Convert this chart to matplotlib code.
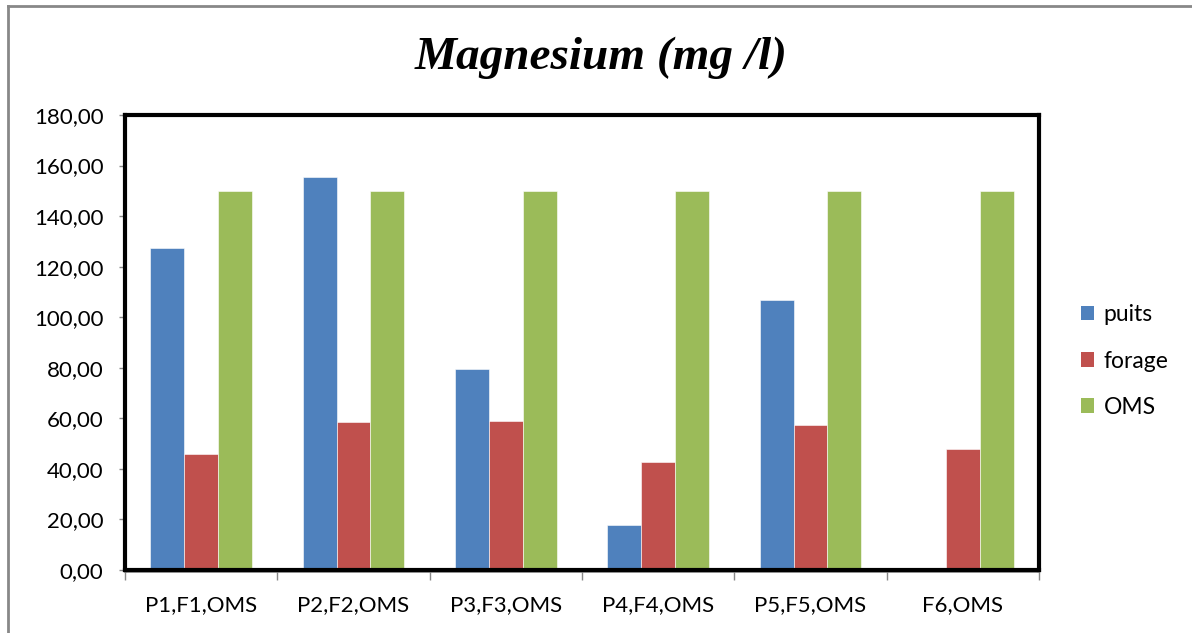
import matplotlib
matplotlib.use("Agg")
import matplotlib.pyplot as plt
from matplotlib.patches import Patch
from matplotlib.lines import Line2D
import numpy as np

categories = ["P1,F1,OMS", "P2,F2,OMS", "P3,F3,OMS", "P4,F4,OMS", "P5,F5,OMS", "F6,OMS"]
puits = [127.5, 155.5, 79.4, 17.8, 106.7, 0.0]
forage = [45.8, 58.4, 58.9, 42.7, 57.5, 47.7]
oms = [150, 150, 150, 150, 150, 150]
series_names = ["puits", "forage", "OMS"]
colors = ["#4F81BD", "#C0504D", "#9BBB59"]
yticks = [0, 20, 40, 60, 80, 100, 120, 140, 160, 180]

W, H = 1192, 633
fig = plt.figure(figsize=(W / 100, H / 100), dpi=100)
fig.patch.set_facecolor("white")

# outer frame (top and left visible)
fig.add_artist(Line2D([8 / W, 8 / W], [0, 1 - 6 / H], transform=fig.transFigure, color="#888888", lw=2))
fig.add_artist(Line2D([8 / W, 1], [1 - 6 / H, 1 - 6 / H], transform=fig.transFigure, color="#888888", lw=2))

left, right, top, bottom = 125, 1039, 115, 570
ax = fig.add_axes([left / W, 1 - bottom / H, (right - left) / W, (bottom - top) / H])

x = np.arange(len(categories))
bw = 1 / 4.5
for i, (vals, c) in enumerate(zip([puits, forage, oms], colors)):
    ax.bar(x + (i - 1) * bw, vals, width=bw, color=c, edgecolor="white", linewidth=0.4, label=series_names[i], zorder=2)

fs = 16
ax.set_xlim(-0.5, len(categories) - 0.5)
ax.set_ylim(0, 180)
ax.set_yticks(yticks)
ax.set_yticklabels([f"{v:.2f}".replace(".", ",") for v in yticks], fontfamily="Lato", fontsize=fs)
ax.set_xticks(x)
ax.set_xticklabels(categories, fontfamily="Lato", fontsize=fs)
ax.tick_params(axis="x", length=0, pad=18)
ax.set_xticks(np.arange(-0.5, len(categories)), minor=True)
ax.tick_params(axis="x", which="minor", length=7, color="#888888", width=1)
ax.tick_params(axis="y", length=4.5, color="#888888", width=1, pad=11)
for s in ax.spines.values():
    s.set_linewidth(3)
    s.set_color("black")

# gray category axis line just below bottom border
ax.add_artist(Line2D([0, 1], [-0.004, -0.004], transform=ax.transAxes, color="#888888", lw=1.2, clip_on=False))

fig.text(0.5045, 1 - 58 / H, "Magnesium (mg /l)", ha="center", va="center",
         fontfamily="Liberation Serif", fontweight="bold", fontstyle="italic", fontsize=34)

handles = [Patch(facecolor=c, edgecolor="none") for c in colors]
leg = fig.legend(handles, series_names, loc="center left", bbox_to_anchor=(1060 / W, 1 - 361 / H),
                 frameon=False, prop={"family": "Lato", "size": 16.5}, handlelength=0.6, handleheight=0.6,
                 handletextpad=0.4, labelspacing=1.1)

fig.savefig("out.png", dpi=100, facecolor="white")
